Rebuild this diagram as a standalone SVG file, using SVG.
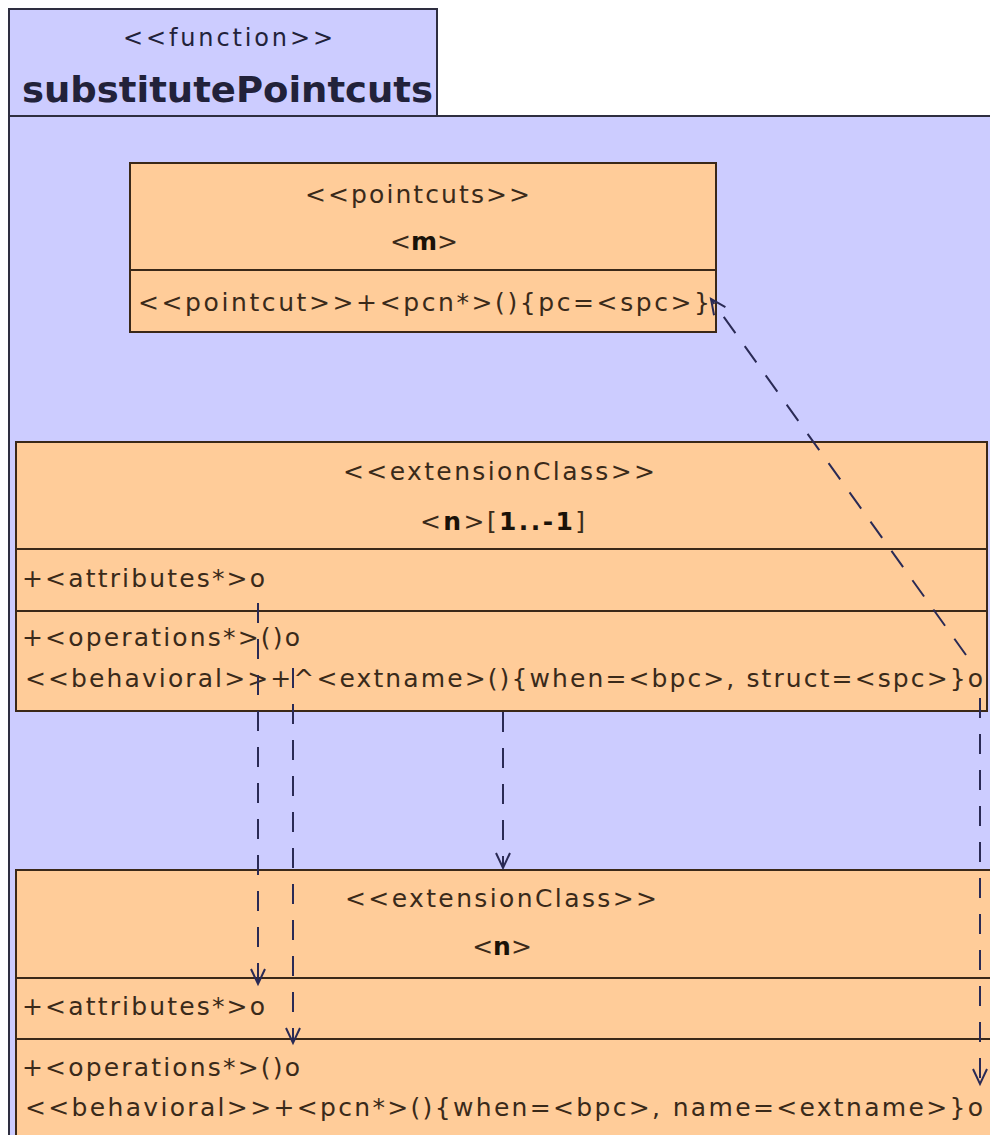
<svg xmlns="http://www.w3.org/2000/svg" width="990" height="1135" viewBox="0 0 990 1135">
<style>
.frame{fill:#ccccff;stroke:#2e2e40;stroke-width:2}
.box{fill:#ffcc99;stroke:#3a2818;stroke-width:2}
.div{stroke:#3a2818;stroke-width:2}
.t{font-family:"DejaVu Sans","Liberation Sans",sans-serif;font-size:25px;fill:#3a2a1a}
.b{font-weight:bold;fill:#1a1208}
.hd{font-family:"DejaVu Sans","Liberation Sans",sans-serif;fill:#22223a}
.conn{fill:none;stroke:#2a2a55;stroke-width:2;stroke-dasharray:20 16}
</style>
<defs>
<marker id="arr" markerUnits="userSpaceOnUse" markerWidth="20" markerHeight="20" viewBox="-16 -10 20 20" refX="0" refY="0" orient="auto">
<path d="M-15,-7 L0,0 L-15,7" fill="none" stroke="#2a2a55" stroke-width="2"/>
</marker>
</defs>
<rect x="0" y="0" width="990" height="1135" fill="#ffffff"/>
<g id="function-frame">
<rect class="frame" x="9" y="116" width="1000" height="1040"/>
<rect class="frame" x="9" y="9" width="428" height="107"/>
<text class="hd" x="123" y="46" font-size="24" textLength="210" lengthAdjust="spacing" fill="#333344">&lt;&lt;function&gt;&gt;</text>
<text class="hd" x="22" y="102" font-size="35" font-weight="bold" textLength="411" lengthAdjust="spacingAndGlyphs" fill="#141428">substitutePointcuts</text>
</g>
<g id="pointcuts-m">
<rect class="box" x="130" y="163" width="586" height="169"/>
<line class="div" x1="130" y1="270" x2="716" y2="270"/>
<text class="t" x="305" y="203" textLength="225" lengthAdjust="spacing">&lt;&lt;pointcuts&gt;&gt;</text>
<text class="t" x="424" y="250" text-anchor="middle">&lt;<tspan class="b">m</tspan>&gt;</text>
<text class="t" x="138" y="311" textLength="572" lengthAdjust="spacing">&lt;&lt;pointcut&gt;&gt;+&lt;pcn*&gt;(){pc=&lt;spc&gt;}</text>
</g>
<g id="extension-class-n-multi">
<rect class="box" x="16" y="442" width="971" height="269"/>
<line class="div" x1="16" y1="549" x2="987" y2="549"/>
<line class="div" x1="16" y1="611" x2="987" y2="611"/>
<text class="t" x="343" y="480" textLength="312" lengthAdjust="spacing">&lt;&lt;extensionClass&gt;&gt;</text>
<text class="t" x="420" y="530" textLength="165" lengthAdjust="spacing">&lt;<tspan class="b">n</tspan>&gt;[<tspan class="b">1..-1</tspan>]</text>
<text class="t" x="22" y="587" textLength="243" lengthAdjust="spacing">+&lt;attributes*&gt;o</text>
<text class="t" x="22" y="646" textLength="278" lengthAdjust="spacing">+&lt;operations*&gt;()o</text>
<text class="t" x="25" y="687" textLength="958" lengthAdjust="spacing">&lt;&lt;behavioral&gt;&gt;+^&lt;extname&gt;(){when=&lt;bpc&gt;, struct=&lt;spc&gt;}o</text>
</g>
<g id="extension-class-n">
<rect class="box" x="16" y="870" width="990" height="280"/>
<line class="div" x1="16" y1="978" x2="990" y2="978"/>
<line class="div" x1="16" y1="1039" x2="990" y2="1039"/>
<text class="t" x="345" y="907" textLength="312" lengthAdjust="spacing">&lt;&lt;extensionClass&gt;&gt;</text>
<text class="t" x="502" y="955" text-anchor="middle">&lt;<tspan class="b">n</tspan>&gt;</text>
<text class="t" x="22" y="1015" textLength="243" lengthAdjust="spacing">+&lt;attributes*&gt;o</text>
<text class="t" x="22" y="1076" textLength="278" lengthAdjust="spacing">+&lt;operations*&gt;()o</text>
<text class="t" x="25" y="1116" textLength="958" lengthAdjust="spacing">&lt;&lt;behavioral&gt;&gt;+&lt;pcn*&gt;(){when=&lt;bpc&gt;, name=&lt;extname&gt;}o</text>
</g>
<g id="connectors">
<path class="conn" d="M966,655 L711,299" marker-end="url(#arr)"/>
<path class="conn" d="M258,603 L258,984" marker-end="url(#arr)"/>
<path class="conn" d="M293,668 L293,1043" marker-end="url(#arr)"/>
<path class="conn" d="M503,712 L503,868" marker-end="url(#arr)"/>
<path class="conn" d="M980,698 L980,1084" marker-end="url(#arr)"/>
</g>
</svg>
